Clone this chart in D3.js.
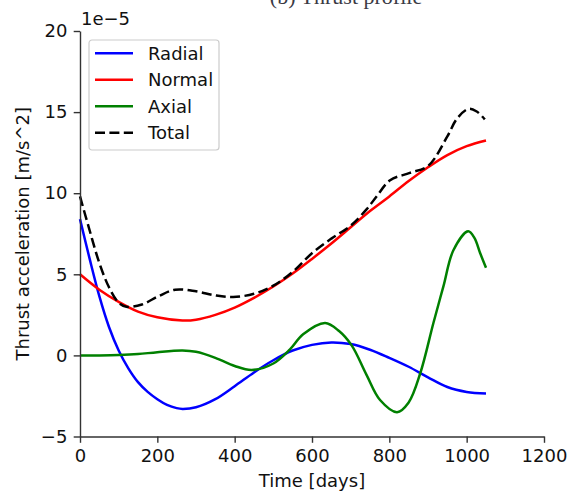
<!DOCTYPE html>
<html>
<head>
<meta charset="utf-8">
<script src="https://cdn.jsdelivr.net/npm/d3@7"></script>
<style>
  body { margin: 0; background: #fff; }
  text { font-family: "DejaVu Sans", sans-serif; }
</style>
</head>
<body>
<div id="chart"></div>
<script>
// values, units of 1e-5 m/s^2
const radialDays = [0, 25, 50, 75, 100, 125, 150, 175, 200, 225, 250, 265, 300, 350, 400, 450, 500, 550, 600, 650, 700, 750, 800, 850, 900, 950, 1000, 1050];
const radialVals = [8.4, 5.95, 3.65, 1.75, 0.3, -0.8, -1.65, -2.25, -2.7, -3.05, -3.25, -3.3, -3.2, -2.7, -1.9, -1.05, -0.3, 0.3, 0.65, 0.8, 0.7, 0.35, -0.15, -0.7, -1.35, -1.95, -2.25, -2.35];

const normalDays = [0, 50, 100, 150, 200, 265, 300, 350, 400, 450, 500, 550, 600, 650, 700, 750, 800, 850, 900, 950, 1000, 1050];
const normalVals = [5.0, 4.05, 3.3, 2.7, 2.35, 2.15, 2.2, 2.5, 2.95, 3.55, 4.25, 5.05, 5.95, 6.9, 7.9, 8.9, 9.8, 10.75, 11.6, 12.35, 12.9, 13.25];

const axialDays = [0, 50, 100, 150, 200, 265, 300, 350, 400, 444, 500, 543, 577, 634, 670, 703, 741, 776, 820, 850, 880, 914, 940, 966, 1004, 1020, 1035, 1050];
const axialVals = [0, 0, 0.02, 0.08, 0.2, 0.3, 0.22, -0.15, -0.65, -0.9, -0.5, 0.37, 1.3, 2.0, 1.5, 0.6, -1.2, -2.75, -3.5, -2.9, -1.1, 2.0, 4.27, 6.5, 7.65, 7.25, 6.3, 5.4];

const totalDays = [0, 25, 50, 75, 100, 120, 160, 203, 246, 300, 350, 396, 450, 500, 550, 600, 650, 700, 741, 767, 802, 853, 901, 950, 975, 1005, 1026, 1047];
const totalVals = [9.8, 7.7, 5.7, 4.2, 3.25, 3.0, 3.14, 3.65, 4.05, 3.95, 3.7, 3.6, 3.8, 4.3, 5.15, 6.3, 7.2, 8.0, 9.0, 9.8, 10.8, 11.25, 11.7, 13.5, 14.6, 15.2, 15.04, 14.55];

const seriesNames = ["Radial", "Normal", "Axial", "Total"];
const xTicks = [0, 200, 400, 600, 800, 1000, 1200];
const yTicks = [-5, 0, 5, 10, 15, 20];

const width = 570, height = 496;
const margin = {left: 80, top: 31, right: 26, bottom: 59.5};
const innerWidth = width - margin.left - margin.right;
const innerHeight = height - margin.top - margin.bottom;
const fontSize = "18px";

const series = [
  {name: seriesNames[0], days: radialDays, vals: radialVals, color: "#0000ff", dash: null},
  {name: seriesNames[1], days: normalDays, vals: normalVals, color: "#ff0000", dash: null},
  {name: seriesNames[2], days: axialDays, vals: axialVals, color: "#008000", dash: null},
  {name: seriesNames[3], days: totalDays, vals: totalVals, color: "#000000", dash: "10,4.4"}
];

const svg = d3.select("#chart")
  .append("svg")
    .attr("width", width)
    .attr("height", height);

// title of the figure, mostly cut off at the top
svg.append("text")
  .attr("x", 346)
  .attr("y", 4)
  .attr("text-anchor", "middle")
  .style("font-family", "'Liberation Serif', serif")
  .style("font-size", "22px")
  .attr("fill", "#3a3a44")
  .text("(b)  Thrust profile");

const innerChart = svg.append("g")
  .attr("transform", `translate(${margin.left}, ${margin.top})`);

const xScale = d3.scaleLinear()
  .domain([0, 1200])
  .range([0, innerWidth]);

const yScale = d3.scaleLinear()
  .domain([-5, 20])
  .range([innerHeight, 0]);

const line = d3.line()
  .x(d => xScale(d[0]))
  .y(d => yScale(d[1]))
  .curve(d3.curveCatmullRom);

series.forEach(s => {
  innerChart.append("path")
    .datum(s.days.map((d, i) => [d, s.vals[i]]))
    .attr("fill", "none")
    .attr("stroke", s.color)
    .attr("stroke-width", 2.5)
    .attr("stroke-dasharray", s.dash)
    .attr("d", line);
});

const bottomAxis = d3.axisBottom(xScale)
  .tickValues(xTicks)
  .tickFormat(d3.format("d"))
  .tickSize(6.3)
  .tickPadding(6.3)
  .tickSizeOuter(0);

const leftAxis = d3.axisLeft(yScale)
  .tickValues(yTicks)
  .tickFormat(d3.format("d"))
  .tickSize(6.3)
  .tickPadding(6.3)
  .tickSizeOuter(0);

const xAxisG = innerChart.append("g")
  .attr("transform", `translate(0, ${innerHeight})`)
  .call(bottomAxis);

const yAxisG = innerChart.append("g")
  .call(leftAxis);

[xAxisG, yAxisG].forEach(g => {
  g.select(".domain").attr("stroke", "#333").attr("stroke-width", 1.4);
  g.selectAll(".tick line").attr("stroke", "#333").attr("stroke-width", 1.4);
  g.selectAll(".tick text")
    .attr("fill", "#111")
    .style("font-family", "'DejaVu Sans', sans-serif")
    .style("font-size", fontSize);
});

// axis labels
svg.append("text")
  .attr("x", margin.left + innerWidth / 2)
  .attr("y", 487)
  .attr("text-anchor", "middle")
  .attr("fill", "#111")
  .style("font-size", fontSize)
  .text("Time [days]");

svg.append("text")
  .attr("transform", `translate(29, ${margin.top + innerHeight / 2}) rotate(-90)`)
  .attr("text-anchor", "middle")
  .attr("fill", "#111")
  .style("font-size", fontSize)
  .text("Thrust acceleration [m/s^2]");

// offset text of the y axis
svg.append("text")
  .attr("x", 81)
  .attr("y", 25)
  .attr("fill", "#111")
  .style("font-size", fontSize)
  .text("1e\u22125");

// legend
const legend = svg.append("g")
  .attr("transform", "translate(89, 40)");

legend.append("rect")
  .attr("width", 130)
  .attr("height", 110)
  .attr("rx", 3)
  .attr("fill", "#fff")
  .attr("fill-opacity", 0.8)
  .attr("stroke", "#cccccc")
  .attr("stroke-width", 1.2);

const rowY = d3.scalePoint()
  .domain(seriesNames)
  .range([13.3, 92.7]);

series.forEach(s => {
  const row = legend.append("g")
    .attr("transform", `translate(0, ${rowY(s.name)})`);
  row.append("line")
    .attr("x1", 6)
    .attr("x2", 44)
    .attr("stroke", s.color)
    .attr("stroke-width", 2.5)
    .attr("stroke-dasharray", s.dash);
  row.append("text")
    .attr("x", 59)
    .attr("y", 6.5)
    .attr("fill", "#111")
    .style("font-size", fontSize)
    .text(s.name);
});
</script>
</body>
</html>
